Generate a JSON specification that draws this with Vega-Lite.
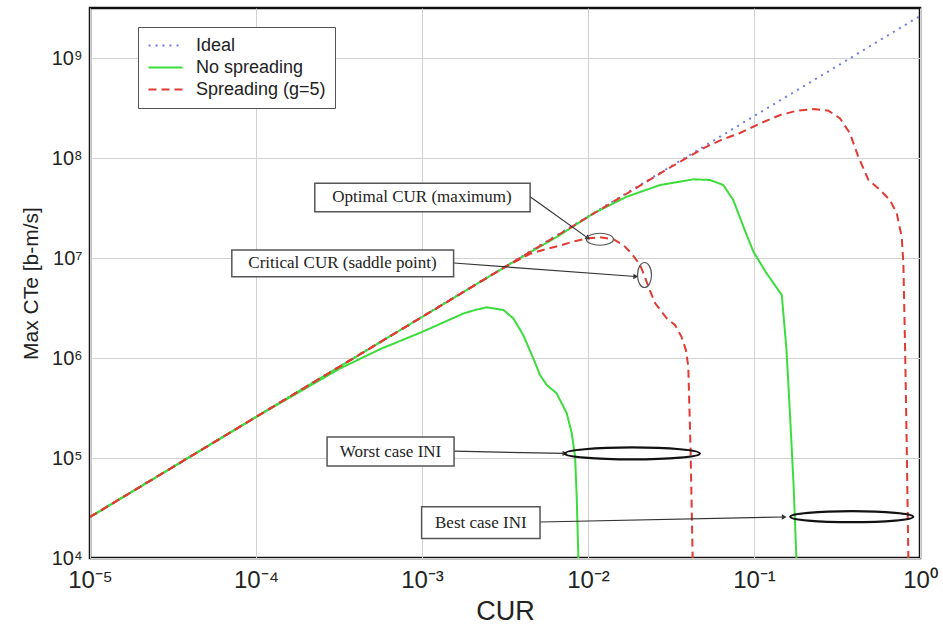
{
  "$schema": "https://vega.github.io/schema/vega-lite/v6.json",
  "width": 830,
  "height": 550,
  "autosize": {"type": "none"},
  "padding": {"left": 90, "top": 8, "right": 23, "bottom": 72},
  "background": "white",
  "config": {
    "font": "Liberation Sans",
    "view": {"stroke": "#111", "strokeWidth": 2.5},
    "axis": {"grid": true, "gridColor": "#d2d2d2", "gridWidth": 1, "domain": false, "ticks": false, "labelColor": "#222", "titleColor": "#222", "labelFont": "Liberation Sans", "titleFont": "Liberation Sans", "titleFontWeight": "normal", "labelFlush": false, "labelOverlap": false},
    "legend": {"orient": "none", "legendX": 48, "legendY": 19, "symbolSize": 289, "symbolStrokeWidth": 2, "symbolOffset": 9, "labelFont": "Liberation Sans", "labelFontSize": 18, "labelColor": "#222", "labelOffset": 21, "padding": 9, "strokeColor": "#555", "fillColor": "white", "rowPadding": 3, "labelLimit": 300}
  },
  "datasets": {
    "curves": [
      {"series": "Ideal", "curve": "I", "cur": 0.00001, "cte": 25700},
      {"series": "Ideal", "curve": "I", "cur": 1, "cte": 2630000000},

      {"series": "No spreading", "curve": "A", "cur": 0.00001, "cte": 25700},
      {"series": "No spreading", "curve": "A", "cur": 0.0000316, "cte": 81300},
      {"series": "No spreading", "curve": "A", "cur": 0.0001, "cte": 257000},
      {"series": "No spreading", "curve": "A", "cur": 0.0002, "cte": 501000},
      {"series": "No spreading", "curve": "A", "cur": 0.000316, "cte": 776000},
      {"series": "No spreading", "curve": "A", "cur": 0.000562, "cte": 1230000},
      {"series": "No spreading", "curve": "A", "cur": 0.001, "cte": 1820000},
      {"series": "No spreading", "curve": "A", "cur": 0.00178, "cte": 2790000},
      {"series": "No spreading", "curve": "A", "cur": 0.00209, "cte": 3020000},
      {"series": "No spreading", "curve": "A", "cur": 0.00245, "cte": 3210000},
      {"series": "No spreading", "curve": "A", "cur": 0.00309, "cte": 3020000},
      {"series": "No spreading", "curve": "A", "cur": 0.00355, "cte": 2490000},
      {"series": "No spreading", "curve": "A", "cur": 0.00407, "cte": 1700000},
      {"series": "No spreading", "curve": "A", "cur": 0.00468, "cte": 993000},
      {"series": "No spreading", "curve": "A", "cur": 0.00514, "cte": 676000},
      {"series": "No spreading", "curve": "A", "cur": 0.00564, "cte": 537000},
      {"series": "No spreading", "curve": "A", "cur": 0.00647, "cte": 444000},
      {"series": "No spreading", "curve": "A", "cur": 0.00745, "cte": 280000},
      {"series": "No spreading", "curve": "A", "cur": 0.00798, "cte": 177000},
      {"series": "No spreading", "curve": "A", "cur": 0.00836, "cte": 103000},
      {"series": "No spreading", "curve": "A", "cur": 0.00855, "cte": 41000},
      {"series": "No spreading", "curve": "A", "cur": 0.00875, "cte": 10000},

      {"series": "No spreading", "curve": "B", "cur": 0.00001, "cte": 25700},
      {"series": "No spreading", "curve": "B", "cur": 0.0001, "cte": 257000},
      {"series": "No spreading", "curve": "B", "cur": 0.001, "cte": 2570000},
      {"series": "No spreading", "curve": "B", "cur": 0.00316, "cte": 8130000},
      {"series": "No spreading", "curve": "B", "cur": 0.00678, "cte": 17000000},
      {"series": "No spreading", "curve": "B", "cur": 0.0108, "cte": 28000000},
      {"series": "No spreading", "curve": "B", "cur": 0.0171, "cte": 41000000},
      {"series": "No spreading", "curve": "B", "cur": 0.0272, "cte": 53700000},
      {"series": "No spreading", "curve": "B", "cur": 0.0431, "cte": 61200000},
      {"series": "No spreading", "curve": "B", "cur": 0.0543, "cte": 60300000},
      {"series": "No spreading", "curve": "B", "cur": 0.0653, "cte": 53700000},
      {"series": "No spreading", "curve": "B", "cur": 0.075, "cte": 38000000},
      {"series": "No spreading", "curve": "B", "cur": 0.0863, "cte": 20600000},
      {"series": "No spreading", "curve": "B", "cur": 0.0991, "cte": 11600000},
      {"series": "No spreading", "curve": "B", "cur": 0.119, "cte": 7030000},
      {"series": "No spreading", "curve": "B", "cur": 0.147, "cte": 4270000},
      {"series": "No spreading", "curve": "B", "cur": 0.157, "cte": 1200000},
      {"series": "No spreading", "curve": "B", "cur": 0.165, "cte": 259000},
      {"series": "No spreading", "curve": "B", "cur": 0.173, "cte": 55800},
      {"series": "No spreading", "curve": "B", "cur": 0.18, "cte": 10000},

      {"series": "Spreading (g=5)", "curve": "C", "cur": 0.00001, "cte": 25700},
      {"series": "Spreading (g=5)", "curve": "C", "cur": 0.0001, "cte": 257000},
      {"series": "Spreading (g=5)", "curve": "C", "cur": 0.001, "cte": 2570000},
      {"series": "Spreading (g=5)", "curve": "C", "cur": 0.00316, "cte": 8130000},
      {"series": "Spreading (g=5)", "curve": "C", "cur": 0.00447, "cte": 11000000},
      {"series": "Spreading (g=5)", "curve": "C", "cur": 0.00562, "cte": 12300000},
      {"series": "Spreading (g=5)", "curve": "C", "cur": 0.00678, "cte": 13300000},
      {"series": "Spreading (g=5)", "curve": "C", "cur": 0.00815, "cte": 14600000},
      {"series": "Spreading (g=5)", "curve": "C", "cur": 0.00982, "cte": 15700000},
      {"series": "Spreading (g=5)", "curve": "C", "cur": 0.0118, "cte": 16100000},
      {"series": "Spreading (g=5)", "curve": "C", "cur": 0.0142, "cte": 15400000},
      {"series": "Spreading (g=5)", "curve": "C", "cur": 0.0163, "cte": 13500000},
      {"series": "Spreading (g=5)", "curve": "C", "cur": 0.0183, "cte": 11100000},
      {"series": "Spreading (g=5)", "curve": "C", "cur": 0.0206, "cte": 8510000},
      {"series": "Spreading (g=5)", "curve": "C", "cur": 0.022, "cte": 6500000},
      {"series": "Spreading (g=5)", "curve": "C", "cur": 0.0231, "cte": 5160000},
      {"series": "Spreading (g=5)", "curve": "C", "cur": 0.0254, "cte": 3520000},
      {"series": "Spreading (g=5)", "curve": "C", "cur": 0.0298, "cte": 2490000},
      {"series": "Spreading (g=5)", "curve": "C", "cur": 0.0334, "cte": 2140000},
      {"series": "Spreading (g=5)", "curve": "C", "cur": 0.0366, "cte": 1630000},
      {"series": "Spreading (g=5)", "curve": "C", "cur": 0.0389, "cte": 1200000},
      {"series": "Spreading (g=5)", "curve": "C", "cur": 0.0402, "cte": 818000},
      {"series": "Spreading (g=5)", "curve": "C", "cur": 0.0407, "cte": 380000},
      {"series": "Spreading (g=5)", "curve": "C", "cur": 0.0415, "cte": 120000},
      {"series": "Spreading (g=5)", "curve": "C", "cur": 0.0427, "cte": 10000},

      {"series": "Spreading (g=5)", "curve": "D", "cur": 0.00001, "cte": 25700},
      {"series": "Spreading (g=5)", "curve": "D", "cur": 0.0001, "cte": 257000},
      {"series": "Spreading (g=5)", "curve": "D", "cur": 0.001, "cte": 2570000},
      {"series": "Spreading (g=5)", "curve": "D", "cur": 0.01, "cte": 25700000},
      {"series": "Spreading (g=5)", "curve": "D", "cur": 0.0316, "cte": 81300000},
      {"series": "Spreading (g=5)", "curve": "D", "cur": 0.0501, "cte": 126000000},
      {"series": "Spreading (g=5)", "curve": "D", "cur": 0.0631, "cte": 151000000},
      {"series": "Spreading (g=5)", "curve": "D", "cur": 0.0824, "cte": 178000000},
      {"series": "Spreading (g=5)", "curve": "D", "cur": 0.109, "cte": 222000000},
      {"series": "Spreading (g=5)", "curve": "D", "cur": 0.144, "cte": 269000000},
      {"series": "Spreading (g=5)", "curve": "D", "cur": 0.181, "cte": 297000000},
      {"series": "Spreading (g=5)", "curve": "D", "cur": 0.228, "cte": 309000000},
      {"series": "Spreading (g=5)", "curve": "D", "cur": 0.281, "cte": 297000000},
      {"series": "Spreading (g=5)", "curve": "D", "cur": 0.33, "cte": 249000000},
      {"series": "Spreading (g=5)", "curve": "D", "cur": 0.378, "cte": 177000000},
      {"series": "Spreading (g=5)", "curve": "D", "cur": 0.425, "cte": 103000000},
      {"series": "Spreading (g=5)", "curve": "D", "cur": 0.489, "cte": 60300000},
      {"series": "Spreading (g=5)", "curve": "D", "cur": 0.574, "cte": 47900000},
      {"series": "Spreading (g=5)", "curve": "D", "cur": 0.659, "cte": 38000000},
      {"series": "Spreading (g=5)", "curve": "D", "cur": 0.724, "cte": 28000000},
      {"series": "Spreading (g=5)", "curve": "D", "cur": 0.776, "cte": 16300000},
      {"series": "Spreading (g=5)", "curve": "D", "cur": 0.794, "cte": 8850000},
      {"series": "Spreading (g=5)", "curve": "D", "cur": 0.813, "cte": 1300000},
      {"series": "Spreading (g=5)", "curve": "D", "cur": 0.832, "cte": 130000},
      {"series": "Spreading (g=5)", "curve": "D", "cur": 0.851, "cte": 10000}
    ],
    "boxes": [
      {"label": "Optimal CUR (maximum)", "cur": 0.000226, "cte": 55900000, "cur2": 0.00448, "cte2": 29000000},
      {"label": "Critical CUR (saddle point)", "cur": 0.0000715, "cte": 12000000, "cur2": 0.00155, "cte2": 6500000},
      {"label": "Worst case INI", "cur": 0.000268, "cte": 162000, "cur2": 0.00156, "cte2": 83200},
      {"label": "Best case INI", "cur": 0.000995, "cte": 32600, "cur2": 0.00514, "cte2": 15700}
    ],
    "labels": [
      {"label": "Optimal CUR (maximum)", "cur": 0.001, "cte": 40700000},
      {"label": "Critical CUR (saddle point)", "cur": 0.000332, "cte": 8850000},
      {"label": "Worst case INI", "cur": 0.000646, "cte": 116000},
      {"label": "Best case INI", "cur": 0.00226, "cte": 22600}
    ],
    "arrows": [
      {"label": "Optimal CUR (maximum)", "cur": 0.00448, "cte": 41000000, "cur2": 0.01, "cte2": 15800000},
      {"label": "Critical CUR (saddle point)", "cur": 0.00155, "cte": 8910000, "cur2": 0.0194, "cte2": 6530000},
      {"label": "Worst case INI", "cur": 0.00156, "cte": 117000, "cur2": 0.00726, "cte2": 111000},
      {"label": "Best case INI", "cur": 0.00514, "cte": 22900, "cur2": 0.152, "cte2": 25700}
    ],
    "heads": [
      {"label": "Optimal CUR (maximum)", "cur": 0.01, "cte": 15800000},
      {"label": "Critical CUR (saddle point)", "cur": 0.0194, "cte": 6530000},
      {"label": "Worst case INI", "cur": 0.00726, "cte": 111000},
      {"label": "Best case INI", "cur": 0.152, "cte": 25700}
    ],
    "ellipses": [
      {"label": "Optimal CUR (maximum)", "cur": 0.0118, "cte": 15400000},
      {"label": "Critical CUR (saddle point)", "cur": 0.0219, "cte": 6760000},
      {"label": "Worst case INI", "cur": 0.0185, "cte": 111000},
      {"label": "Best case INI", "cur": 0.388, "cte": 25900}
    ]
  },
  "encoding": {
    "x": {
      "field": "cur", "type": "quantitative",
      "scale": {"type": "log", "domain": [0.00001, 1], "nice": false},
      "axis": {
        "title": "CUR",
        "values": [0.00001, 0.0001, 0.001, 0.01, 0.1, 1],
        "labelExpr": "'10' + (round(log(datum.value)/LN10) < 0 ? '⁻' : '') + ['⁰','¹','²','³','⁴','⁵','⁶','⁷','⁸','⁹'][abs(round(log(datum.value)/LN10))]",
        "labelFontSize": 24, "labelPadding": 10, "titleFontSize": 27, "titlePadding": 6
      }
    },
    "y": {
      "field": "cte", "type": "quantitative",
      "scale": {"type": "log", "domain": [10000, 3162277660], "nice": false},
      "axis": {
        "title": "Max CTe [b-m/s]",
        "values": [10000, 100000, 1000000, 10000000, 100000000, 1000000000],
        "labelExpr": "'10' + (round(log(datum.value)/LN10) < 0 ? '⁻' : '') + ['⁰','¹','²','³','⁴','⁵','⁶','⁷','⁸','⁹'][abs(round(log(datum.value)/LN10))]",
        "labelFontSize": 20, "labelPadding": 8, "titleFontSize": 21, "titlePadding": 10
      }
    }
  },
  "layer": [
    {
      "data": {"name": "curves"},
      "transform": [{"filter": "datum.series === 'Ideal'"}],
      "mark": {"type": "line", "strokeWidth": 2, "clip": true},
      "encoding": {
        "color": {"field": "series", "type": "nominal", "scale": {"domain": ["Ideal", "No spreading", "Spreading (g=5)"], "range": ["#6f78e6", "#3ddc3d", "#e23a32"]}, "legend": {"title": null, "symbolType": "M-2,0L2,0"}},
        "strokeDash": {"field": "series", "type": "nominal", "scale": {"domain": ["Ideal", "No spreading", "Spreading (g=5)"], "range": [[2, 5], [1, 0], [8, 5]]}, "legend": {"title": null, "symbolType": "M-2,0L2,0"}},
        "detail": {"field": "curve"}
      }
    },
    {
      "data": {"name": "curves"},
      "transform": [{"filter": "datum.series === 'No spreading'"}],
      "mark": {"type": "line", "strokeWidth": 2, "clip": true},
      "encoding": {
        "color": {"field": "series", "type": "nominal", "legend": {"title": null, "symbolType": "M-2,0L2,0"}},
        "strokeDash": {"field": "series", "type": "nominal", "legend": {"title": null, "symbolType": "M-2,0L2,0"}},
        "detail": {"field": "curve"}
      }
    },
    {
      "data": {"name": "curves"},
      "transform": [{"filter": "datum.series === 'Spreading (g=5)'"}],
      "mark": {"type": "line", "strokeWidth": 2, "clip": true},
      "encoding": {
        "color": {"field": "series", "type": "nominal", "legend": {"title": null, "symbolType": "M-2,0L2,0"}},
        "strokeDash": {"field": "series", "type": "nominal", "legend": {"title": null, "symbolType": "M-2,0L2,0"}},
        "detail": {"field": "curve"}
      }
    },
    {
      "data": {"name": "arrows"},
      "mark": {"type": "rule", "color": "#333", "strokeWidth": 1.2},
      "encoding": {
        "x2": {"field": "cur2"},
        "y2": {"field": "cte2"}
      }
    },
    {
      "data": {"name": "heads"},
      "transform": [{"filter": "datum.label !== 'Optimal CUR (maximum)'"}],
      "mark": {"type": "point", "shape": "triangle-right", "size": 30, "filled": true, "color": "#333", "opacity": 1, "angle": 2},
      "encoding": {}
    },
    {
      "data": {"name": "heads"},
      "transform": [{"filter": "datum.label === 'Optimal CUR (maximum)'"}],
      "mark": {"type": "point", "shape": "triangle-right", "size": 30, "filled": true, "color": "#333", "opacity": 1, "angle": 35},
      "encoding": {}
    },
    {
      "data": {"name": "ellipses"},
      "transform": [{"filter": "datum.label === 'Optimal CUR (maximum)'"}],
      "mark": {"type": "point", "shape": "M-1,0C-1,-0.245,-0.552,-0.444,0,-0.444C0.552,-0.444,1,-0.245,1,0C1,0.245,0.552,0.444,0,0.444C-0.552,0.444,-1,0.245,-1,0Z", "size": 729, "filled": false, "stroke": "#555", "strokeWidth": 1.2, "opacity": 1},
      "encoding": {}
    },
    {
      "data": {"name": "ellipses"},
      "transform": [{"filter": "datum.label === 'Critical CUR (saddle point)'"}],
      "mark": {"type": "point", "shape": "M-0.56,0C-0.56,-0.552,-0.309,-1,0,-1C0.309,-1,0.56,-0.552,0.56,0C0.56,0.552,0.309,1,0,1C-0.309,1,-0.56,0.552,-0.56,0Z", "size": 625, "filled": false, "stroke": "#555", "strokeWidth": 1.2, "opacity": 1},
      "encoding": {}
    },
    {
      "data": {"name": "ellipses"},
      "transform": [{"filter": "datum.label === 'Worst case INI'"}],
      "mark": {"type": "point", "shape": "M-1,0C-1,-0.049,-0.552,-0.089,0,-0.089C0.552,-0.089,1,-0.049,1,0C1,0.049,0.552,0.089,0,0.089C-0.552,0.089,-1,0.049,-1,0Z", "size": 18225, "filled": false, "stroke": "#111", "strokeWidth": 2.2, "opacity": 1},
      "encoding": {}
    },
    {
      "data": {"name": "ellipses"},
      "transform": [{"filter": "datum.label === 'Best case INI'"}],
      "mark": {"type": "point", "shape": "M-1,0C-1,-0.049,-0.552,-0.089,0,-0.089C0.552,-0.089,1,-0.049,1,0C1,0.049,0.552,0.089,0,0.089C-0.552,0.089,-1,0.049,-1,0Z", "size": 15129, "filled": false, "stroke": "#111", "strokeWidth": 2.2, "opacity": 1},
      "encoding": {}
    },
    {
      "data": {"name": "boxes"},
      "mark": {"type": "rect", "fill": "white", "stroke": "#555", "strokeWidth": 1.5},
      "encoding": {
        "x2": {"field": "cur2"},
        "y2": {"field": "cte2"}
      }
    },
    {
      "data": {"name": "labels"},
      "mark": {"type": "text", "font": "Liberation Serif", "fontSize": 17, "color": "#222", "align": "center", "baseline": "middle"},
      "encoding": {
        "text": {"field": "label"}
      }
    }
  ]
}
